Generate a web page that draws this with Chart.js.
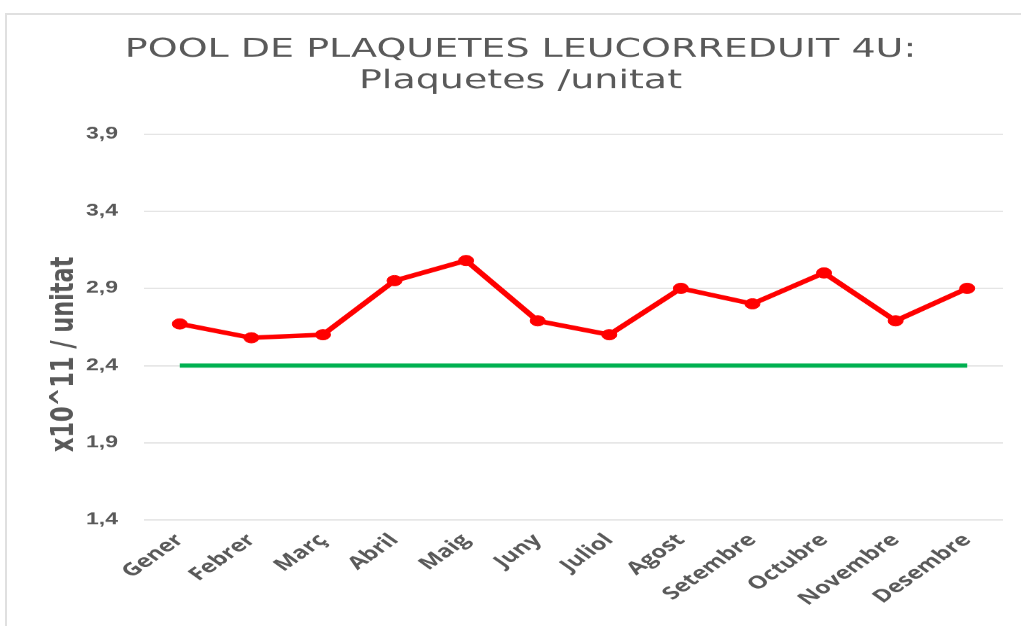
<!DOCTYPE html>
<html>
<head>
<meta charset="utf-8">
<script src="https://cdn.jsdelivr.net/npm/chart.js@4/dist/chart.umd.min.js"></script>
<style>
    html, body { margin: 0; padding: 0; background: #fff; overflow: hidden; }
    #frame { position: absolute; left: 5px; top: 13px; width: 1100px; height: 700px; border: 2px solid #e0e0e0; }
    /* the reference is squeezed vertically, so the chart is drawn taller and scaled down */
    #wrap { position: absolute; left: 0; top: 0; width: 1021px; height: 894px; transform: scaleY(0.7); transform-origin: 0 0; }
</style>
</head>
<body>
<div id="frame"></div>
<div id="wrap"><canvas id="canvas" width="1021" height="894"></canvas></div>
<script>
var months = ['Gener', 'Febrer', 'Març', 'Abril', 'Maig', 'Juny', 'Juliol', 'Agost', 'Setembre', 'Octubre', 'Novembre', 'Desembre'];
var plaquetes = [2.67, 2.58, 2.60, 2.95, 3.08, 2.69, 2.60, 2.90, 2.80, 3.00, 2.69, 2.90];
var minim = [2.4, 2.4, 2.4, 2.4, 2.4, 2.4, 2.4, 2.4, 2.4, 2.4, 2.4, 2.4];
var yTicks = [1.4, 1.9, 2.4, 2.9, 3.4, 3.9];

var grey = '#595959';

// y axis title, placed a bit below the middle like the original
var axisTitle = {
    id: 'axisTitle',
    afterDraw: function (chart) {
        var a = chart.chartArea, ctx = chart.ctx;
        ctx.save();
        ctx.translate(a.left - 79, (a.top + a.bottom) / 2 + 39);
        ctx.rotate(-Math.PI / 2);
        ctx.font = 'bold 32px "DejaVu Sans"';
        ctx.fillStyle = grey;
        ctx.textAlign = 'center';
        ctx.textBaseline = 'middle';
        ctx.fillText('x10^11 / unitat', 0, 0);
        ctx.restore();
    }
};

new Chart(document.getElementById('canvas'), {
    type: 'line',
    data: {
        labels: months,
        datasets: [{
            data: plaquetes,
            borderColor: '#ff0000',
            backgroundColor: '#ff0000',
            borderWidth: 6.5,
            pointRadius: 7.5,
            pointBorderWidth: 1,
            pointBackgroundColor: '#ff0000',
            tension: 0
        }, {
            data: minim,
            borderColor: '#00b050',
            borderWidth: 6,
            pointRadius: 0,
            tension: 0
        }]
    },
    options: {
        responsive: false,
        animation: false,
        devicePixelRatio: 1,
        layout: { padding: { left: 38, right: 18, top: 0, bottom: 0 } },
        plugins: {
            legend: { display: false },
            tooltip: { enabled: false },
            title: {
                display: true,
                text: ['POOL DE PLAQUETES LEUCORREDUIT 4U:', 'Plaquetes /unitat'],
                color: grey,
                font: { family: 'DejaVu Sans', size: 38, weight: 'normal', lineHeight: 1.2 },
                padding: { top: 48, bottom: 52 }
            }
        },
        scales: {
            x: {
                offset: true,
                grid: { display: false },
                border: { display: false },
                ticks: {
                    autoSkip: false,
                    minRotation: 45,
                    maxRotation: 45,
                    padding: 6,
                    color: grey,
                    font: { family: 'Open Sans', size: 25, weight: 'bold' }
                },
                afterFit: function (scale) { scale.height = 151; }
            },
            y: {
                min: 1.4,
                max: 3.9,
                afterBuildTicks: function (scale) {
                    scale.ticks = yTicks.map(function (v) { return { value: v }; });
                },
                grid: { color: '#d9d9d9', lineWidth: 1.4, drawTicks: false },
                border: { display: false },
                ticks: {
                    padding: 26,
                    color: grey,
                    font: { family: 'Liberation Sans', size: 23, weight: 'bold' },
                    callback: function (v) { return v.toFixed(1).replace('.', ','); }
                },
                afterFit: function (scale) { scale.width = 106; }
            }
        }
    },
    plugins: [axisTitle]
});
</script>
</body>
</html>
